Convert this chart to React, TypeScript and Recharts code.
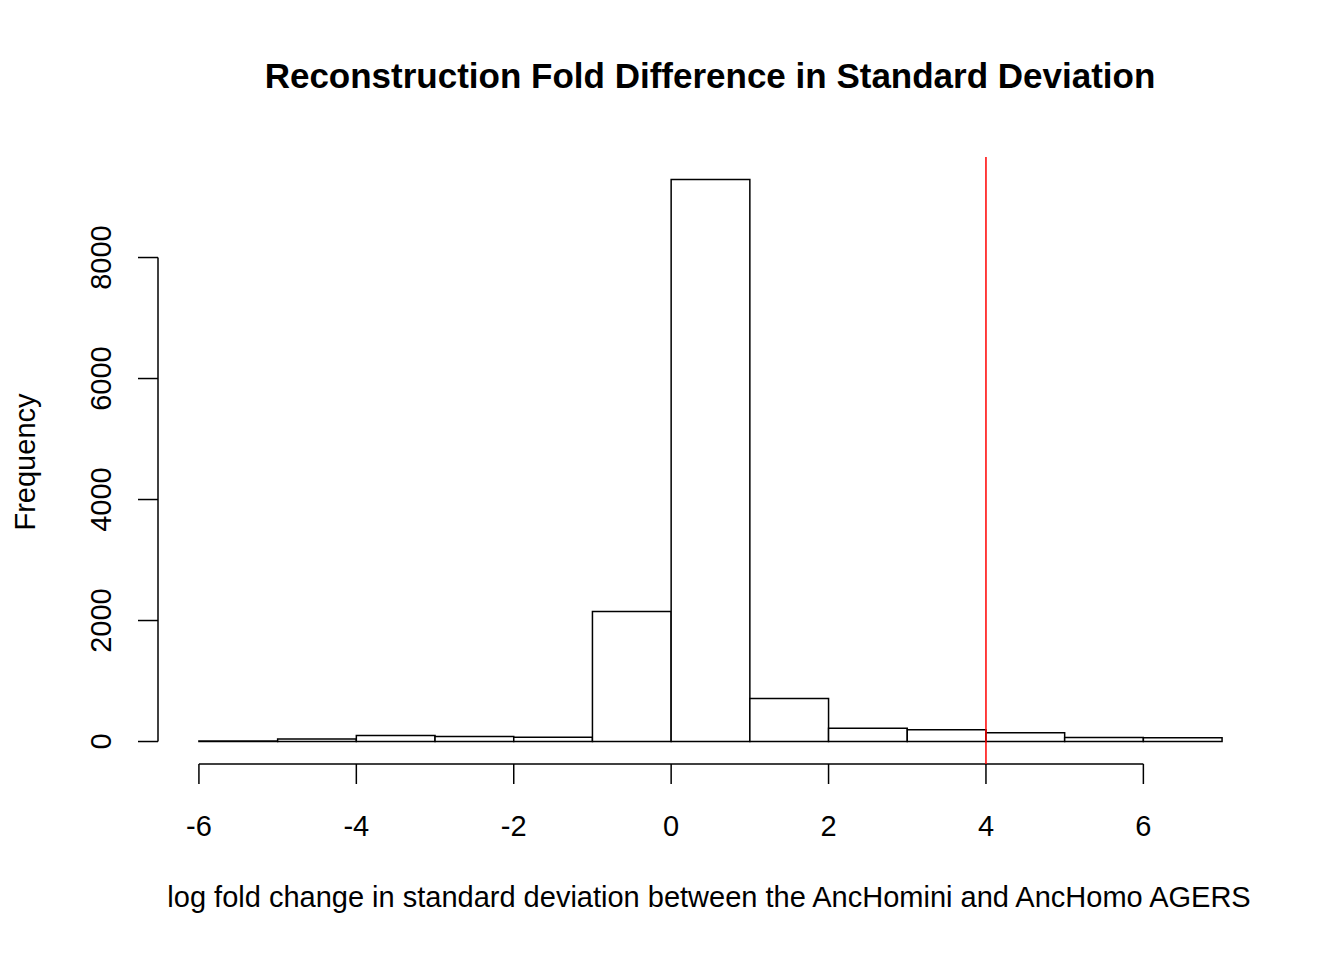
import { ComposedChart, XAxis, YAxis, ReferenceArea, ReferenceLine, Line } from 'recharts';

const binStarts = [-6, -5, -4, -3, -2, -1, 0, 1, 2, 3, 4, 5, 6];
const counts = [10, 40, 100, 83, 72, 2150, 9290, 711, 220, 193, 143, 66, 61];
const xTicks = [-6, -4, -2, 0, 2, 4, 6];
const yTicks = [0, 2000, 4000, 6000, 8000];
const cutoff = 4;

const FONT = '"Liberation Sans", Arial, sans-serif';

const XTick = (p: any) => (
  <g>
    <line x1={p.x} x2={p.x} y1={764} y2={784} stroke='#000' strokeWidth={1.5} />
    <text x={p.x} y={836} textAnchor='middle' fontSize={29} fontFamily={FONT}>
      {p.payload.value}
    </text>
  </g>
);

const YTick = (p: any) => (
  <g>
    <line x1={138} x2={158} y1={p.y} y2={p.y} stroke='#000' strokeWidth={1.5} />
    <text
      x={111}
      y={p.y}
      textAnchor='middle'
      fontSize={29}
      fontFamily={FONT}
      transform={`rotate(-90 111 ${p.y})`}
    >
      {p.payload.value}
    </text>
  </g>
);

export default function App() {
  const data = [{ x: -6.52 }, { x: 7.52 }];
  return (
    <div style={{ position: 'absolute', left: 0, top: 0, width: 1344, height: 960, background: '#fff' }}>
      <ComposedChart
        width={1344}
        height={960}
        data={data}
        margin={{ left: 98, right: 81, top: 157, bottom: 136 }}
      >
        <XAxis
          dataKey='x'
          type='number'
          domain={[-6.52, 7.52]}
          ticks={xTicks}
          tick={XTick}
          axisLine={false}
          tickLine={false}
          height={60}
          allowDataOverflow
        />
        <YAxis
          type='number'
          domain={[-371.6, 9661.6]}
          ticks={yTicks}
          tick={YTick}
          axisLine={false}
          tickLine={false}
          width={60}
          allowDataOverflow
        />
        <Line dataKey='x' stroke='none' dot={false} isAnimationActive={false} />
        {binStarts.map((s, i) => (
          <ReferenceArea
            key={s}
            x1={s}
            x2={s + 1}
            y1={0}
            y2={counts[i]}
            fill='#fff'
            fillOpacity={1}
            stroke='#000'
            strokeWidth={1.5}
            ifOverflow='visible'
          />
        ))}
        <ReferenceLine
          segment={[{ x: -6.52, y: 0 }, { x: -6.52, y: 8000 }]}
          stroke='#000'
          strokeWidth={1.5}
          ifOverflow='visible'
        />
        <ReferenceLine
          segment={[{ x: -6, y: -371.6 }, { x: 6, y: -371.6 }]}
          stroke='#000'
          strokeWidth={1.5}
          ifOverflow='visible'
        />
        <ReferenceLine x={cutoff} stroke='#ff0000' strokeWidth={1.5} />
      </ComposedChart>
      <div style={{ position: 'absolute', left: 0, width: 1420, top: 56, textAlign: 'center', fontFamily: FONT, fontWeight: 'bold', fontSize: 35, whiteSpace: 'nowrap' }}>
        Reconstruction Fold Difference in Standard Deviation
      </div>
      <div style={{ position: 'absolute', left: 0, width: 1418, top: 881, textAlign: 'center', fontFamily: FONT, fontSize: 29, whiteSpace: 'nowrap' }}>
        log fold change in standard deviation between the AncHomini and AncHomo AGERS
      </div>
      <div
        style={{
          position: 'absolute',
          left: 25,
          top: 462,
          transform: 'translate(-50%, -50%) rotate(-90deg)',
          fontFamily: FONT,
          fontSize: 29,
          whiteSpace: 'nowrap',
        }}
      >
        Frequency
      </div>
    </div>
  );
}
